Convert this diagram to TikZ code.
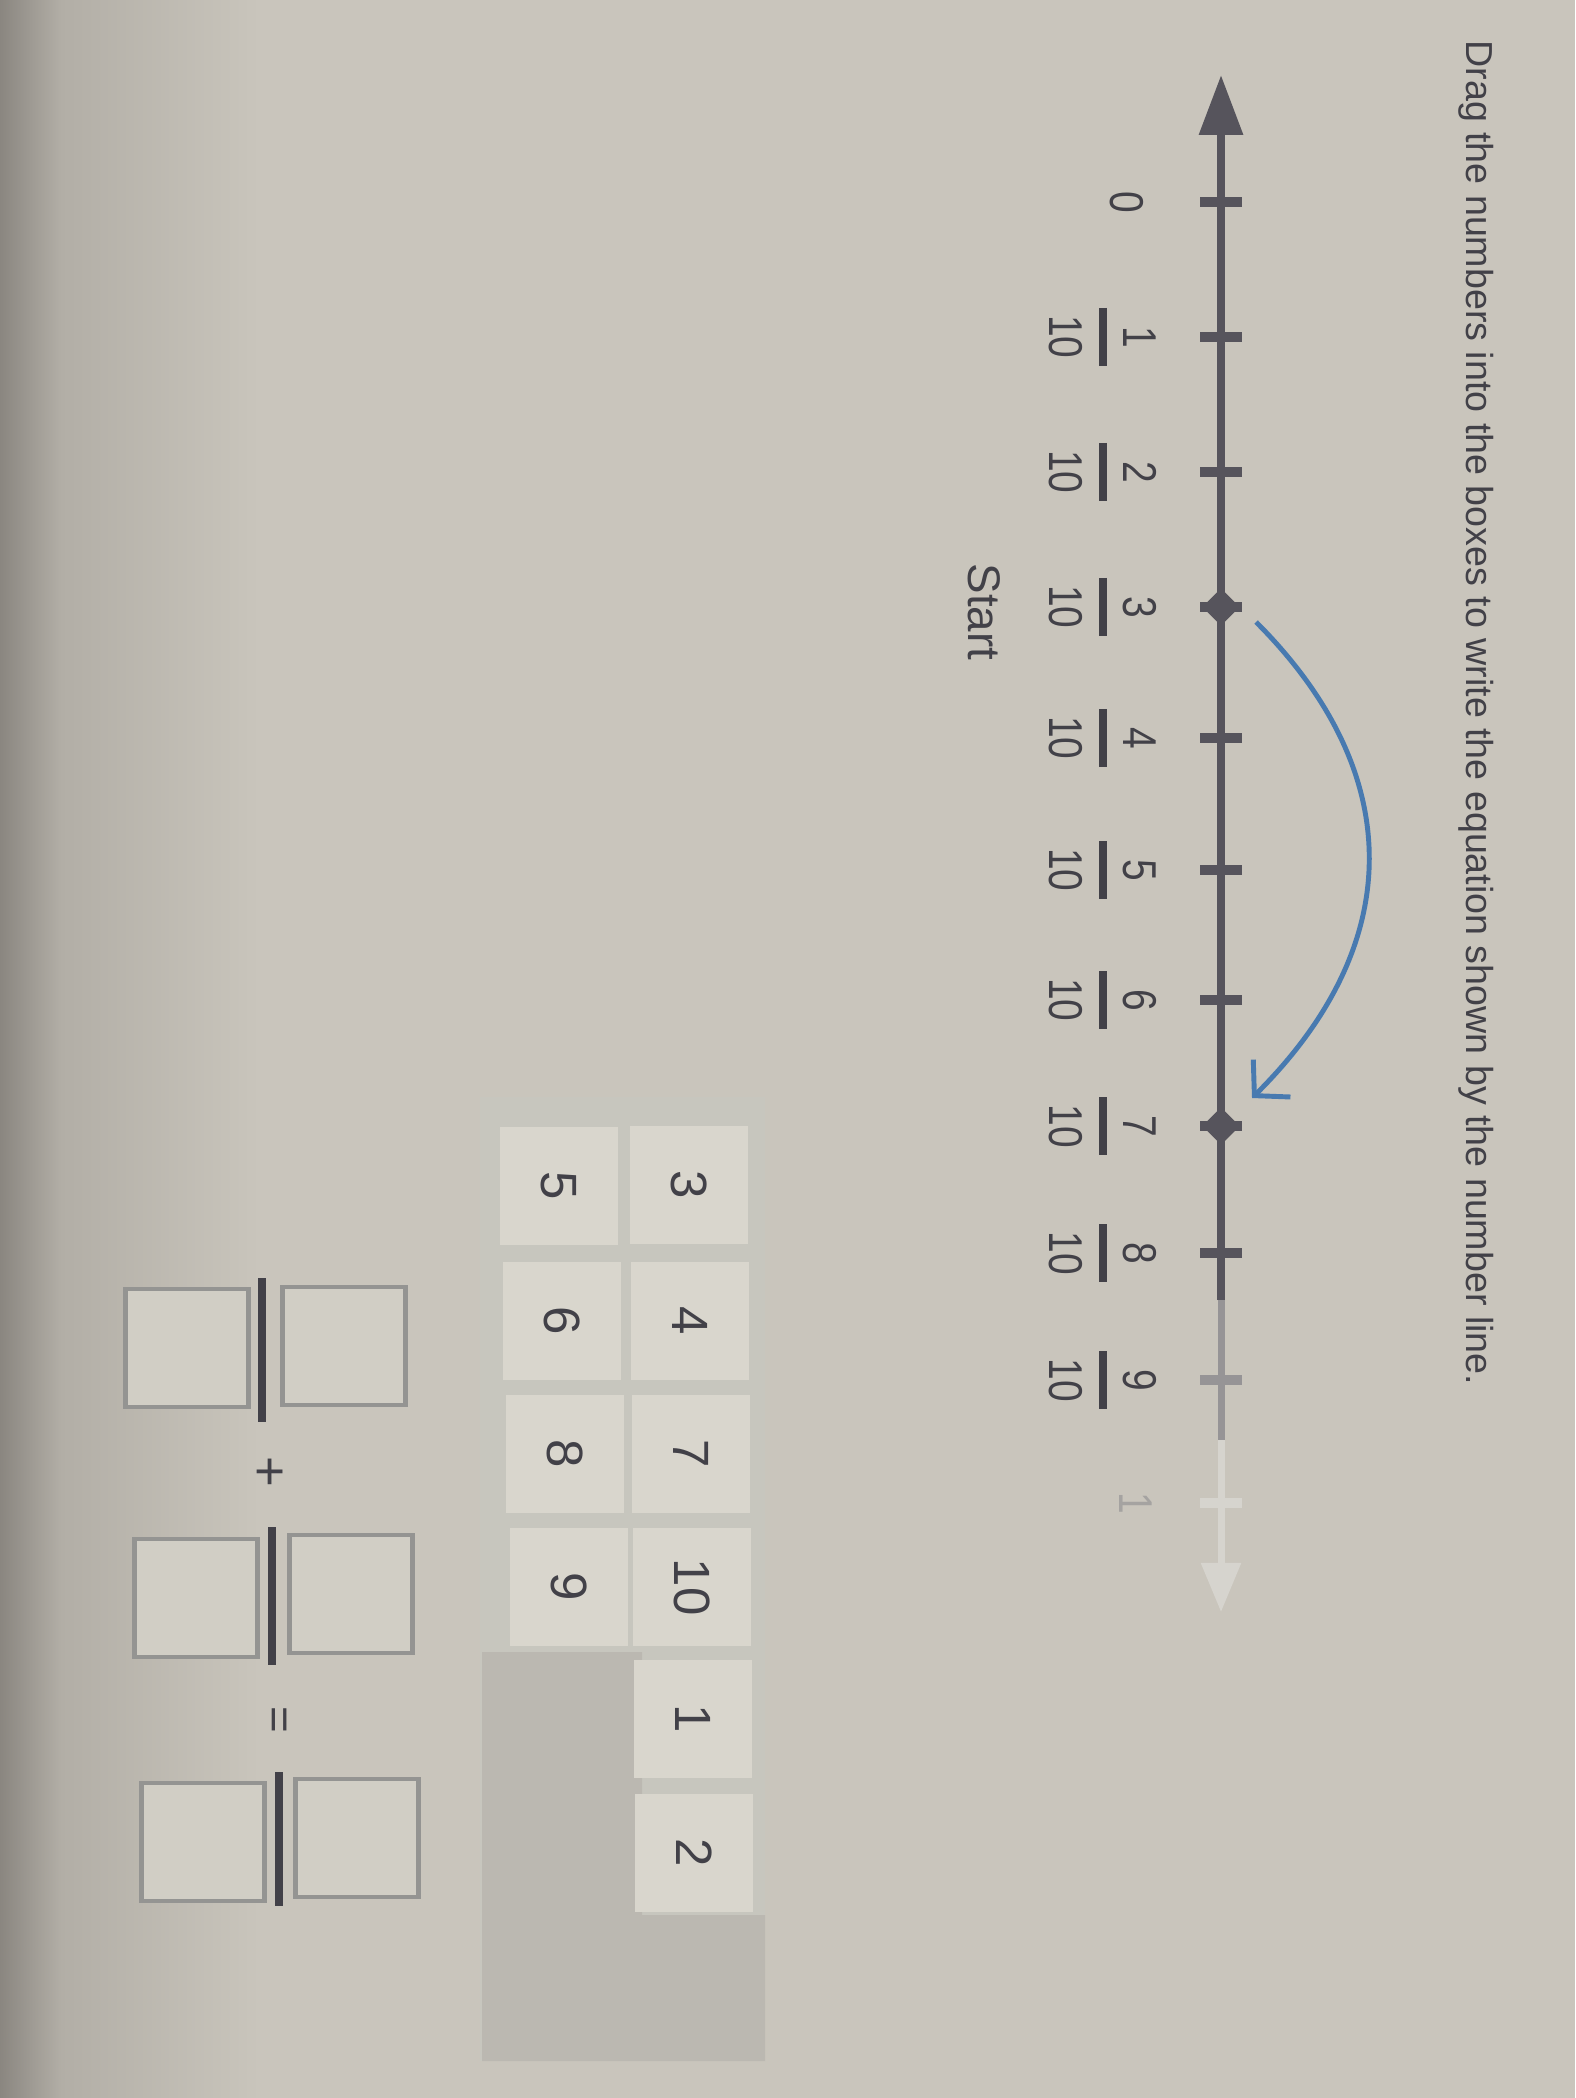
\documentclass[tikz,border=0pt]{standalone}
\usepackage{fontspec}
\setmainfont{Liberation Sans}
\usepackage{graphicx}
\usetikzlibrary{arrows.meta, shapes.geometric, positioning}

\definecolor{paper}{RGB}{201,197,188}
\definecolor{paperdim}{RGB}{178,174,166}
\definecolor{paperdark}{RGB}{138,134,128}
\definecolor{ink}{RGB}{66,65,72}
\definecolor{linegray}{RGB}{86,84,92}
\definecolor{linefade}{RGB}{150,148,150}
\definecolor{lineghost}{RGB}{214,212,206}
\definecolor{hopblue}{RGB}{72,122,176}
\definecolor{panelgray}{RGB}{199,198,190}
\definecolor{panelshade}{RGB}{187,184,177}
\definecolor{tilefill}{RGB}{217,214,205}
\definecolor{boxline}{RGB}{148,148,146}
\definecolor{boxfill}{RGB}{209,206,197}

\newcommand{\squeeze}[1]{\scalebox{0.82}[1]{#1}}

\tikzset{
    numlabel/.style={rotate=-90, text=ink, inner sep=0pt, font=\fontsize{13.5}{15}\selectfont},
    tickmark/.style={linegray, line width=2.6pt},
    fracbar/.style={ink, line width=2.2pt},
    pointdot/.style={diamond, fill=linegray, minimum size=0.38cm, inner sep=0pt},
    tile/.style={rotate=-90, fill=tilefill, text=ink, minimum width=1.17cm, minimum height=1.18cm, inner sep=0pt, font=\fontsize{14.5}{16}\selectfont},
    ansbox/.style={draw=boxline, fill=boxfill, line width=1.3pt, minimum width=1.23cm, minimum height=1.18cm, inner sep=0pt},
    ansbar/.style={ink, line width=2.2pt}
}

\begin{document}
\begin{tikzpicture}[x=0.01cm, y=-0.01cm]
    \useasboundingbox (0,0) rectangle (1575,2098);
    % photo background
    \fill[paper] (0,0) rectangle (1575,2098);
    \shade[left color=paperdim, right color=paper] (60,0) rectangle (260,2098);
    \shade[left color=paperdark, right color=paperdim] (0,0) rectangle (61,2098);

    % instruction
    \node[rotate=-90, anchor=west, text=ink, font=\fontsize{10.7}{13}\selectfont] (title) at (1476,28) {Drag the numbers into the boxes to write the equation shown by the number line.};

    % number line
    \coordinate (top) at (1221,75);
    \coordinate (mid) at (1221,1300);
    \coordinate (fade) at (1221,1440);
    \coordinate (bottom) at (1221,1612);
    \draw[linegray, line width=2.4pt, -{Triangle[length=17pt, width=12pt]}] (mid) -- (top);
    \draw[linefade, line width=2pt] (mid) -- (fade);
    \draw[lineghost, line width=2pt, -{Triangle[length=14pt, width=11pt]}] (fade) -- (bottom);
    \foreach \y in {202,337,472,607,738,870,1000,1126,1253}
        \draw[tickmark] (1200,\y) -- (1242,\y);
    \draw[tickmark, linefade] (1200,1380) -- (1242,1380);
    \draw[tickmark, lineghost] (1200,1503) -- (1242,1503);

    % labels
    \node[numlabel] (z0) at (1127,202) {\squeeze{0}};
    \foreach \k/\y in {1/337, 2/472, 3/607, 4/738, 5/870, 6/1000, 7/1126, 8/1253, 9/1380} {
        \node[numlabel] (n\k) at (1140,\y) {\squeeze{\k}};
        \node[numlabel] (d\k) at (1066,\y) {\squeeze{10}};
        \draw[fracbar] (1103,\y-29) -- (1103,\y+29);
    }
    \node[numlabel, text=linefade!70!paper] (n10) at (1136,1503) {\squeeze{1}};

    % jump
    \node[pointdot] (p3) at (1221,607) {};
    \node[pointdot] (p7) at (1221,1126) {};
    \node[rotate=-90, text=ink, font=\fontsize{13}{15}\selectfont] (start) at (984,612) {Start};
    \coordinate (hopA) at (1256,622);
    \coordinate (hopB) at (1252,1098);
    \draw[hopblue, line width=1.4pt, -{Straight Barb[length=7pt, width=15pt]}] (hopA) .. controls (1408,774) and (1406,945) .. (hopB);

    % number tiles
    \fill[panelgray] (480,1097) rectangle (765,2061);
    \fill[panelshade] (482,1652) -- (642,1652) -- (642,1915) -- (765,1915) -- (765,2061) -- (482,2061) -- cycle;
    \node[tile] (t3) at (689,1185) {3};
    \node[tile] (t4) at (690,1321) {4};
    \node[tile] (t7) at (691,1454) {7};
    \node[tile] (t10) at (692,1587) {10};
    \node[tile] (t1) at (693,1719) {1};
    \node[tile] (t2) at (694,1853) {2};
    \node[tile] (t5) at (559,1186) {5};
    \node[tile] (t6) at (562,1321) {6};
    \node[tile] (t8) at (565,1454) {8};
    \node[tile] (t9) at (569,1587) {9};

    % answer boxes
    \node[ansbox] (num1) at (344,1346) {};
    \node[ansbox] (den1) at (187,1348) {};
    \draw[ansbar] (262,1278) -- (262,1422);
    \node[rotate=-90, text=ink, font=\fontsize{15}{17}\selectfont] (plus) at (268,1472) {+};
    \node[ansbox] (num2) at (351,1594) {};
    \node[ansbox] (den2) at (196,1598) {};
    \draw[ansbar] (272,1527) -- (272,1665);
    \node[rotate=-90, text=ink, font=\fontsize{13}{15}\selectfont] (equals) at (276,1720) {=};
    \node[ansbox] (num3) at (357,1838) {};
    \node[ansbox] (den3) at (203,1842) {};
    \draw[ansbar] (279,1772) -- (279,1906);
\end{tikzpicture}
\end{document}
